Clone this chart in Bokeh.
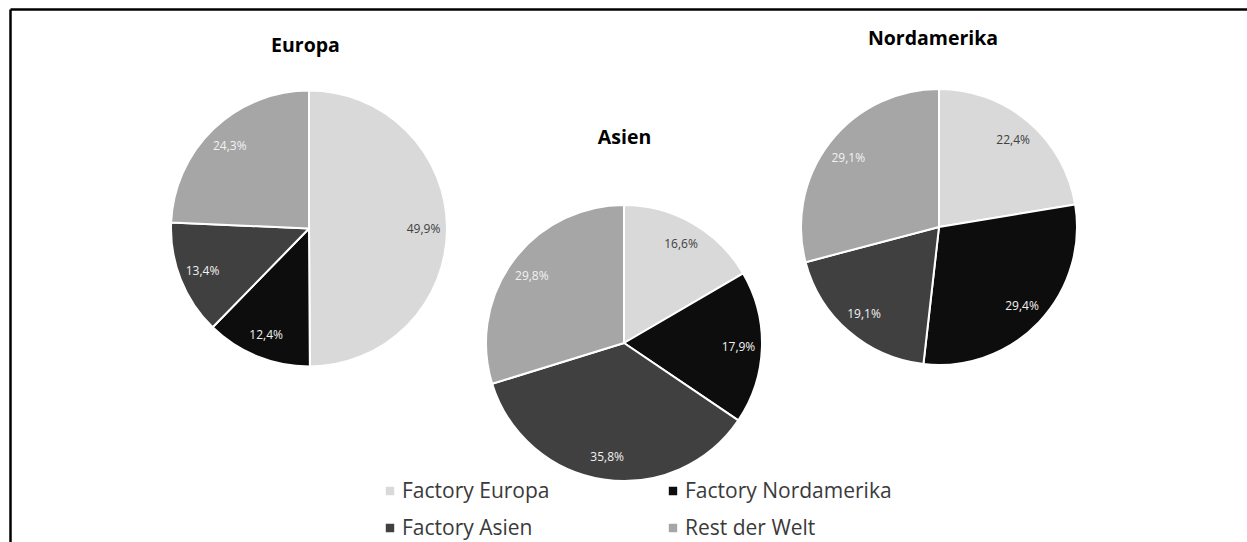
import math
from bokeh.plotting import figure
from bokeh.models import Range1d, ColumnDataSource, Legend, LegendItem
from bokeh.core.properties import value
from bokeh.embed import file_html
from bokeh.resources import INLINE

W, H = 1247, 542

# ---- data ----
regions = ["Europa", "Asien", "Nordamerika"]
categories = ["Factory Europa", "Factory Nordamerika", "Factory Asien", "Rest der Welt"]
europa = [49.9, 12.4, 13.4, 24.3]
asien = [16.6, 17.9, 35.8, 29.8]
nordamerika = [22.4, 29.4, 19.1, 29.1]
region_values = [europa, asien, nordamerika]

# ---- styles / layout (pixels from top-left of the page) ----
colors = ["#d9d9d9", "#0d0d0d", "#404040", "#a6a6a6"]
label_colors = ["#404040", "#f2f2f2", "#f2f2f2", "#f2f2f2"]
centers_px = [(308.5, 228.0), (623.5, 342.5), (938.5, 226.5)]
titles_px = [(305.0, 43.5), (624.0, 136.0), (932.5, 37.0)]
R = 138.0
LABEL_R = 0.83 * R

def fy(py):
    return H - py

p = figure(width=W, height=H, x_range=Range1d(0, W), y_range=Range1d(0, H),
           output_backend="svg", toolbar_location=None,
           x_axis_location=None, y_axis_location=None, min_border=0)
p.grid.visible = False
p.outline_line_color = None
p.background_fill_color = "white"
p.border_fill_color = "white"

# frame border (top and left edges visible)
p.segment(x0=[10, 10], y0=[fy(9), fy(9)], x1=[W + 5, 10], y1=[fy(9), -5],
          line_color="black", line_width=2.5)

# build wedges: one renderer per category (across the three pies)
cat_data = {j: dict(x=[], y=[], start=[], end=[]) for j in range(len(categories))}
lab = dict(x=[], y=[], text=[], color=[])
for (cx, cy), vals in zip(centers_px, region_values):
    total = sum(vals)
    cum = 0.0
    for j, v in enumerate(vals):
        f0 = cum / total
        cum += v
        f1 = cum / total
        a_start = math.pi / 2 - 2 * math.pi * f1
        a_end = math.pi / 2 - 2 * math.pi * f0
        cat_data[j]["x"].append(cx)
        cat_data[j]["y"].append(fy(cy))
        cat_data[j]["start"].append(a_start)
        cat_data[j]["end"].append(a_end)
        amid = (a_start + a_end) / 2
        lab["x"].append(cx + LABEL_R * math.cos(amid))
        lab["y"].append(fy(cy) + LABEL_R * math.sin(amid))
        lab["text"].append(f"{v:.1f}".replace(".", ",") + "%")
        lab["color"].append(label_colors[j])

renderers = []
for j, c in enumerate(categories):
    src = ColumnDataSource(cat_data[j])
    r = p.wedge(x="x", y="y", radius=R, start_angle="start", end_angle="end",
                fill_color=colors[j], line_color="white", line_width=2, source=src)
    renderers.append(r)

p.text(x="x", y="y", text="text", text_color="color", source=ColumnDataSource(lab),
       text_font=value("Open Sans"), text_font_size="12px",
       text_align="center", text_baseline="middle")

p.text(x=[t[0] for t in titles_px], y=[fy(t[1]) for t in titles_px], text=regions,
       text_font=value("Open Sans"), text_font_style="bold", text_font_size="19.5px",
       text_color="black", text_align="center", text_baseline="middle")

legend = Legend(items=[LegendItem(label=c, renderers=[renderers[j]]) for j, c in enumerate(categories)],
                orientation="horizontal", ncols=2, location=(383, 0),
                glyph_width=13, glyph_height=13, label_standoff=6,
                label_width=257, label_height=30, spacing=7,
                padding=0, margin=0, border_line_color=None, background_fill_alpha=0,
                label_text_font="Open Sans", label_text_font_size="21px",
                label_text_color="#3a3a3a")
p.add_layout(legend)

open("out.html", "w").write(file_html(p, INLINE))
